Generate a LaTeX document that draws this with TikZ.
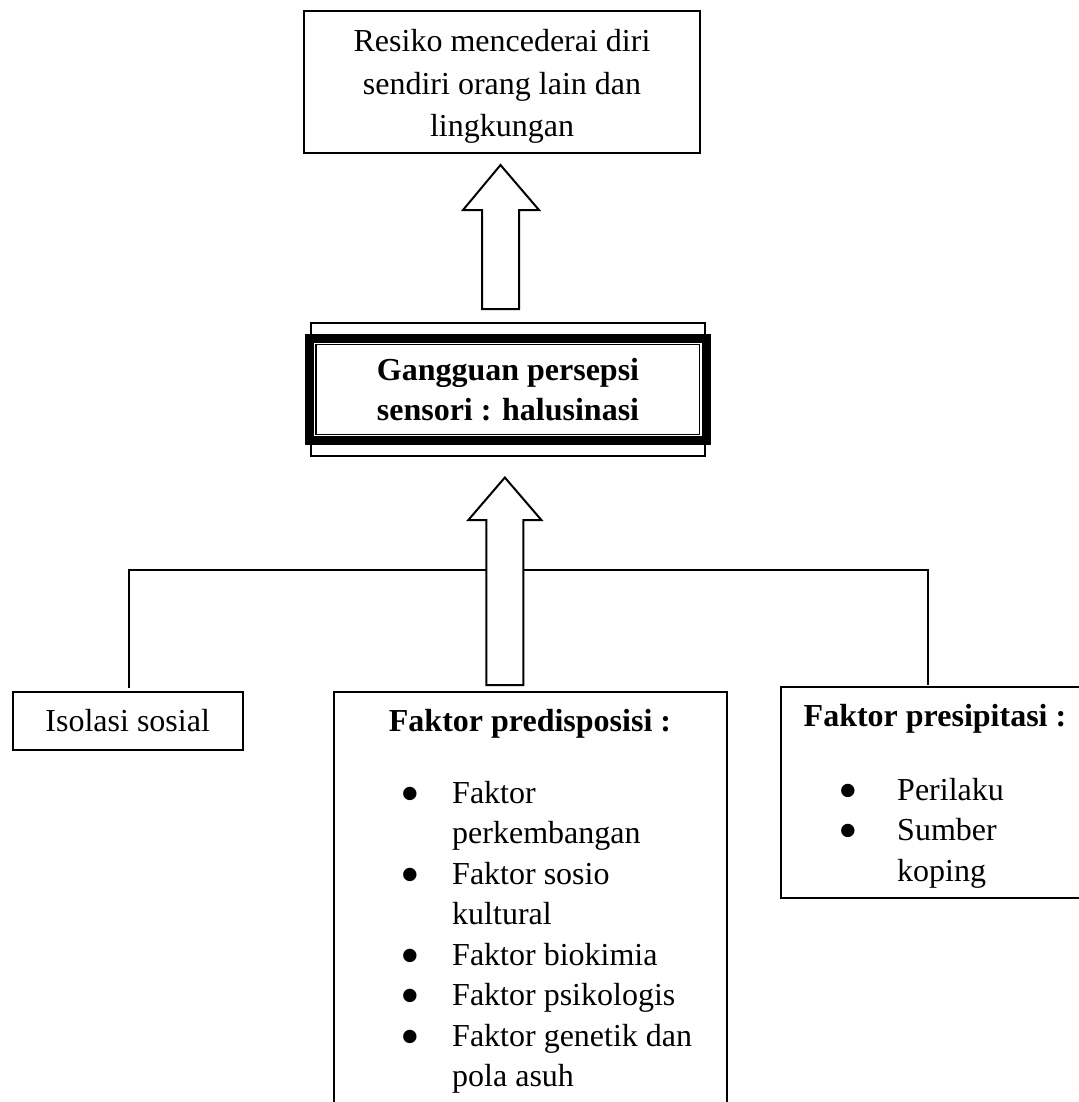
\documentclass[tikz,border=0pt]{standalone}
\usepackage{fontspec}
\setmainfont{Liberation Serif}
\usetikzlibrary{positioning}

\newdimen\pxu \pxu=0.375pt
\newcommand\bul[1][84.8]{\makebox[#1\pxu]{\smash{\raisebox{-3.4pt}{\scalebox{1.75}{\textbullet}}}}}

\begin{document}
\begin{tikzpicture}[x=0.375pt, y=-0.375pt,
  box/.style={draw, line width=0.75pt, inner sep=0pt, outer sep=0pt},
  txt/.style={font=\fontsize{12}{15.2}\selectfont, align=center},
  head/.style={font=\fontsize{12}{15.2}\selectfont\bfseries, inner sep=0pt, anchor=base},
  list/.style={font=\fontsize{12}{15.2}\selectfont, inner sep=0pt, anchor=base west},
  wire/.style={line width=0.75pt},
  fatarrow/.style={draw, line width=0.75pt, fill=white, line join=miter}]
  \useasboundingbox (0,0) rectangle (1079,1102);
  \clip (0,0) rectangle (1079,1102);

  % top box
  \node[box, txt, font=\fontsize{12}{15.9}\selectfont, minimum width={396*\pxu}, minimum height={142*\pxu}] (risk) at (502,82)
    {\rule{0pt}{11.7pt}Resiko mencederai diri\\ sendiri orang lain dan\\ lingkungan};

  % centre box with thick-thin frame
  \node[box, txt, font=\fontsize{12}{15}\selectfont\bfseries, minimum width={394*\pxu}, minimum height={133*\pxu}] (gps) at (508,389.5)
    {Gangguan persepsi\\ sensori : halusinasi};
  \draw[line width={9*\pxu}] ([shift={(-1.5,15.5)}]gps.north west) rectangle ([shift={(1.5,-15.5)}]gps.south east);
  \draw[line width=0.4pt] ([shift={(5,21.5)}]gps.north west) rectangle ([shift={(-5.5,-21.5)}]gps.south east);

  % lower boxes
  \node[box, txt, minimum width={230*\pxu}, minimum height={58*\pxu}] (iso) at (127.7,721) {Isolasi sosial};
  \node[box, minimum width={392.7*\pxu}, minimum height={420*\pxu}, anchor=north west] (pred) at (334,692) {};
  \node[box, minimum width={320*\pxu}, minimum height={211*\pxu}, anchor=north west] (prec) at (780.7,687.3) {};

  \node[head] (predh) at (530,731.7) {Faktor predisposisi :};
  \node[list] (predl) at (366.9,803) {\begin{tabular}[t]{@{}l@{}l@{}}
    \bul & Faktor\\ & perkembangan\\
    \bul & Faktor sosio\\ & kultural\\
    \bul & Faktor biokimia\\
    \bul & Faktor psikologis\\
    \bul & Faktor genetik dan\\ & pola asuh
  \end{tabular}};

  \node[head] (prech) at (935,726.7) {Faktor presipitasi :};
  \node[list] (precl) at (797.9,800) {\begin{tabular}[t]{@{}l@{}l@{}}
    \bul[98.8] & Perilaku\\
    \bul[98.8] & Sumber\\ & koping
  \end{tabular}};

  % bracket line
  \coordinate (hubL) at (129,570);
  \coordinate (hubR) at (928,570);
  \draw[wire, shorten <=1.5pt, shorten >=0.75pt] (hubL |- iso.north) -- (hubL) -- (hubR) -- (hubR |- prec.north);

  % block arrows
  \draw[fatarrow] (gps.north) ++(-26,-14) -- ++(0,-99) -- ++(-19,0) -- ++(37.5,-45)
    -- ++(38.5,45) -- ++(-20,0) -- ++(0,99) -- cycle;
  \draw[fatarrow] (pred.north) ++(-44,-7) -- ++(0,-165) -- ++(-18,0) -- ++(36.5,-42.5)
    -- ++(36.5,42.5) -- ++(-18,0) -- ++(0,165) -- cycle;
\end{tikzpicture}
\end{document}
